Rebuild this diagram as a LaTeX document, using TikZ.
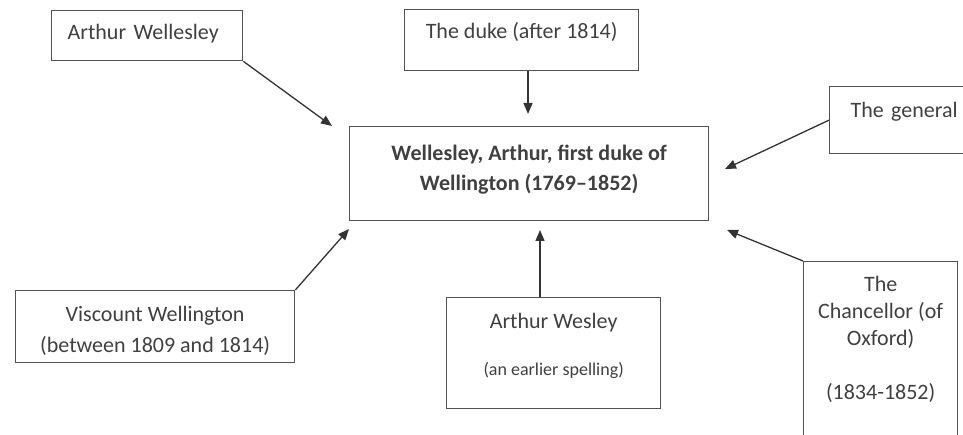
\documentclass[tikz,border=0pt]{standalone}
\usepackage{fontspec}
\setmainfont{Carlito}
\usetikzlibrary{arrows.meta, positioning}

\begin{document}
\begin{tikzpicture}[x=1pt, y=-1pt]
  \newcommand\namefont{\fontsize{22}{30}\selectfont}
  \newcommand\notefont{\fontsize{18}{22}\selectfont}

  \tikzset{ptr/.style={line width=1.3pt, draw=black!80, -{Triangle[length=11pt, width=9pt]}}}
  \tikzset{namebox/.style={draw=black!68, line width=1.3pt, text=black!75, inner sep=0pt, font=\namefont}}
  \tikzset{leftbox/.style={namebox, align=left, anchor=north west}}
  \tikzset{midbox/.style={namebox, align=center, anchor=north west}}

  \useasboundingbox (0, 0) rectangle (963, 435);
  \clip (0, 0) rectangle (963, 435);

  % main entry
  \node[midbox, font=\namefont\bfseries, minimum width=359pt, text height=64pt, text depth=30pt]
    (wellington) at (349, 126) {Wellesley, Arthur, first duke of\\Wellington (1769--1852)};

  % other names
  \node[leftbox, inner xsep=16pt, text width=159pt, text height=29pt, text depth=21pt]
    (wellesley) at (51, 10) {Arthur Wellesley};
  \node[midbox, minimum width=234pt, text height=29pt, text depth=32pt]
    (duke) at (404, 9) {The duke (after 1814)};
  \node[leftbox, inner xsep=21pt, text width=140pt, text height=31pt, text depth=36pt]
    (general) at (829, 86) {The general};
  \node[midbox, minimum width=279pt, font=\fontsize{22}{31}\selectfont, text height=62pt, text depth=10pt]
    (viscount) at (15, 290) {Viscount Wellington\\(between 1809 and 1814)};
  \node[midbox, minimum width=214pt, font=\fontsize{22}{47}\selectfont, text height=78pt, text depth=33pt]
    (wesley) at (446, 297) {Arthur Wesley\\{\notefont(an earlier spelling)}};
  \node[midbox, minimum width=154pt, font=\fontsize{22}{27}\selectfont, text height=138pt, text depth=61pt]
    (chancellor) at (803, 261) {The\\Chancellor (of\\Oxford)\\[27pt](1834-1852)};

  % arrow ends
  \coordinate (wellesley-tip) at (332, 126);
  \coordinate (duke-tip) at (528, 114);
  \coordinate (general-tip) at (725, 169);
  \coordinate (viscount-tip) at (349, 229);
  \coordinate (wesley-tip) at (540, 230);
  \coordinate (chancellor-tip) at (727, 230);

  \draw[ptr] (wellesley.south east) -- (wellesley-tip);
  \draw[ptr] (duke.south -| duke-tip) -- (duke-tip);
  \draw[ptr] (general.west) -- (general-tip);
  \draw[ptr] (viscount.north east) -- (viscount-tip);
  \draw[ptr] (wesley.north -| wesley-tip) -- (wesley-tip);
  \draw[ptr] (chancellor.north west) -- (chancellor-tip);
\end{tikzpicture}
\end{document}
